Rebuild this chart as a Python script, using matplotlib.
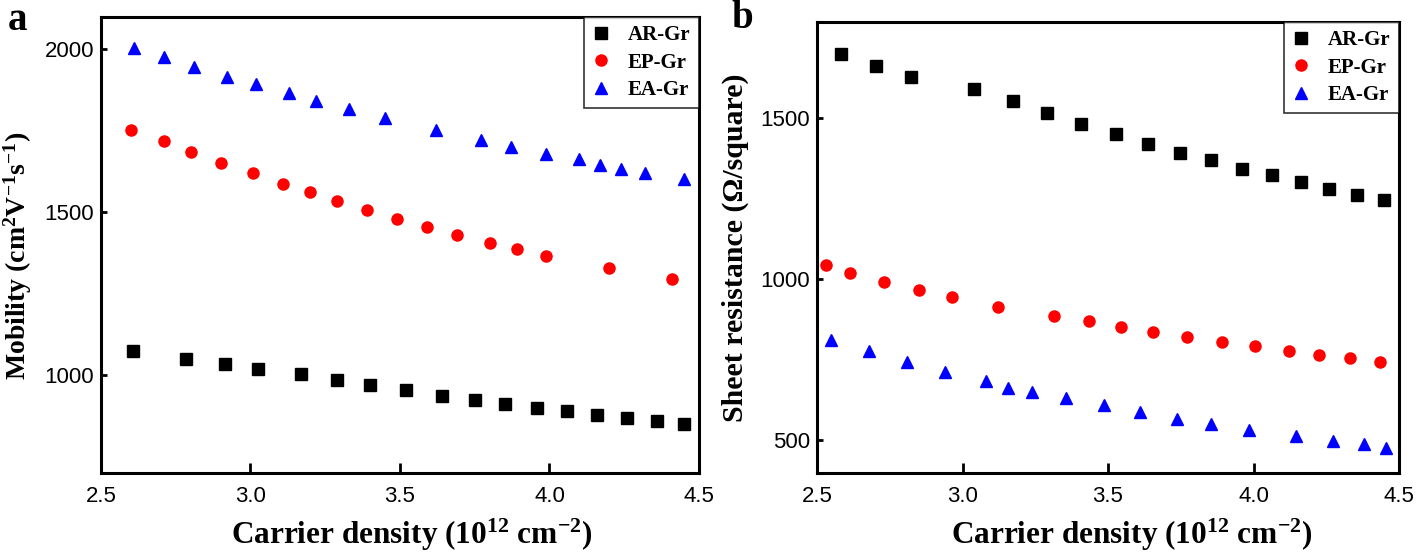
import matplotlib
matplotlib.use("Agg")
import matplotlib.pyplot as plt

# Panel a: mobility vs carrier density (10^12 cm^-2)
ar_mob_x = [2.606, 2.786, 2.915, 3.025, 3.17, 3.29, 3.40, 3.52, 3.64, 3.75, 3.85, 3.96, 4.06, 4.16, 4.26, 4.36, 4.45]
ar_mob_y = [1074, 1050, 1035, 1020, 1003, 986, 971, 955, 937, 925, 913, 901, 889, 878, 870, 860, 850]
ep_mob_x = [2.60, 2.71, 2.80, 2.90, 3.01, 3.11, 3.20, 3.29, 3.39, 3.49, 3.59, 3.69, 3.80, 3.89, 3.99, 4.20, 4.41]
ep_mob_y = [1753, 1720, 1686, 1652, 1619, 1588, 1561, 1534, 1506, 1479, 1454, 1430, 1405, 1387, 1366, 1329, 1296]
ea_mob_x = [2.61, 2.71, 2.81, 2.92, 3.02, 3.13, 3.22, 3.33, 3.45, 3.62, 3.77, 3.87, 3.99, 4.10, 4.17, 4.24, 4.32, 4.45]
ea_mob_y = [2003, 1976, 1945, 1915, 1893, 1866, 1841, 1817, 1790, 1753, 1723, 1701, 1680, 1662, 1646, 1634, 1622, 1601]

# Panel b: sheet resistance vs carrier density
ar_rs_x = [2.581, 2.703, 2.823, 3.040, 3.172, 3.291, 3.408, 3.527, 3.637, 3.749, 3.853, 3.962, 4.064, 4.162, 4.261, 4.357, 4.450]
ar_rs_y = [1700, 1662, 1628, 1591, 1554, 1515, 1481, 1450, 1421, 1393, 1369, 1344, 1324, 1303, 1281, 1263, 1247]
ep_rs_x = [2.531, 2.612, 2.731, 2.851, 2.964, 3.122, 3.313, 3.433, 3.543, 3.653, 3.772, 3.893, 4.005, 4.121, 4.224, 4.332, 4.435]
ep_rs_y = [1043, 1018, 992, 966, 945, 914, 885, 870, 852, 836, 821, 806, 792, 777, 766, 756, 743]
ea_rs_x = [2.547, 2.679, 2.810, 2.941, 3.082, 3.155, 3.240, 3.357, 3.485, 3.609, 3.736, 3.854, 3.985, 4.145, 4.274, 4.381, 4.455]
ea_rs_y = [811, 777, 742, 712, 683, 661, 649, 630, 609, 588, 567, 550, 533, 513, 498, 487, 476]

labels = ["AR-Gr", "EP-Gr", "EA-Gr"]
x_ticks = [2.5, 3.0, 3.5, 4.0, 4.5]

plt.rcParams["font.family"] = ["Liberation Sans", "DejaVu Sans"]
plt.rcParams["mathtext.default"] = "regular"

serif_bold = dict(family=["Liberation Serif", "DejaVu Serif"], weight="bold")

fig = plt.figure(figsize=(14.18, 5.55), dpi=100)
ax_a = fig.add_axes([0.0712, 0.1477, 0.4217, 0.8216])
ax_b = fig.add_axes([0.5762, 0.1477, 0.4104, 0.8126])


def style_axes(ax, yticks, ylim, ylabel, ysize, ylab_pos, xlab_pos):
    ax.set_xlim(2.5, 4.5)
    ax.set_ylim(*ylim)
    ax.set_xticks(x_ticks)
    ax.set_xticklabels([f"{t:.1f}" for t in x_ticks])
    ax.set_yticks(yticks)
    for s in ax.spines.values():
        s.set_linewidth(2.2)
    ax.tick_params(axis="x", direction="in", length=7, width=2, labelsize=16, pad=9)
    ax.tick_params(axis="y", direction="in", length=4, width=2, labelsize=16, pad=5)
    ax.set_xlabel("Carrier density (10$^{12}$ cm$^{-2}$)", fontsize=22.5, **serif_bold)
    ax.xaxis.set_label_coords(*xlab_pos)
    ax.set_ylabel(ylabel, fontsize=ysize, **serif_bold)
    ax.yaxis.set_label_coords(*ylab_pos)
    leg = ax.legend(loc="upper right", frameon=True, fancybox=False, borderaxespad=0,
                    handlelength=0.8, handletextpad=0.9, borderpad=0.4, labelspacing=0.35,
                    prop=dict(family=["Liberation Serif"], weight="bold", size=15))
    leg.get_frame().set_edgecolor("black")
    leg.get_frame().set_linewidth(1.2)


ax_a.plot(ar_mob_x, ar_mob_y, "s", color="black", ms=8, ls="none", label=labels[0])
ax_a.plot(ep_mob_x, ep_mob_y, "o", color="red", ms=8, ls="none", label=labels[1])
ax_a.plot(ea_mob_x, ea_mob_y, "^", color="blue", ms=9, ls="none", label=labels[2])
style_axes(ax_a, [1000, 1500, 2000], (700, 2099), "Mobility (cm$^{2}$V$^{-1}$s$^{-1}$)", 20,
           (-0.112, 0.476), (0.520, -0.095))

ax_b.plot(ar_rs_x, ar_rs_y, "s", color="black", ms=8, ls="none", label=labels[0])
ax_b.plot(ep_rs_x, ep_rs_y, "o", color="red", ms=8, ls="none", label=labels[1])
ax_b.plot(ea_rs_x, ea_rs_y, "^", color="blue", ms=9, ls="none", label=labels[2])
style_axes(ax_b, [500, 1000, 1500], (398, 1799), "Sheet resistance (\u03a9/square)", 21.5,
           (-0.117, 0.5), (0.541, -0.096))

fig.text(0.0056, 0.946, "a", fontsize=28, va="baseline", ha="left", **serif_bold)
fig.text(0.516, 0.9495, "b", fontsize=28, va="baseline", ha="left", **serif_bold)

fig.savefig("out.png", dpi=100)
